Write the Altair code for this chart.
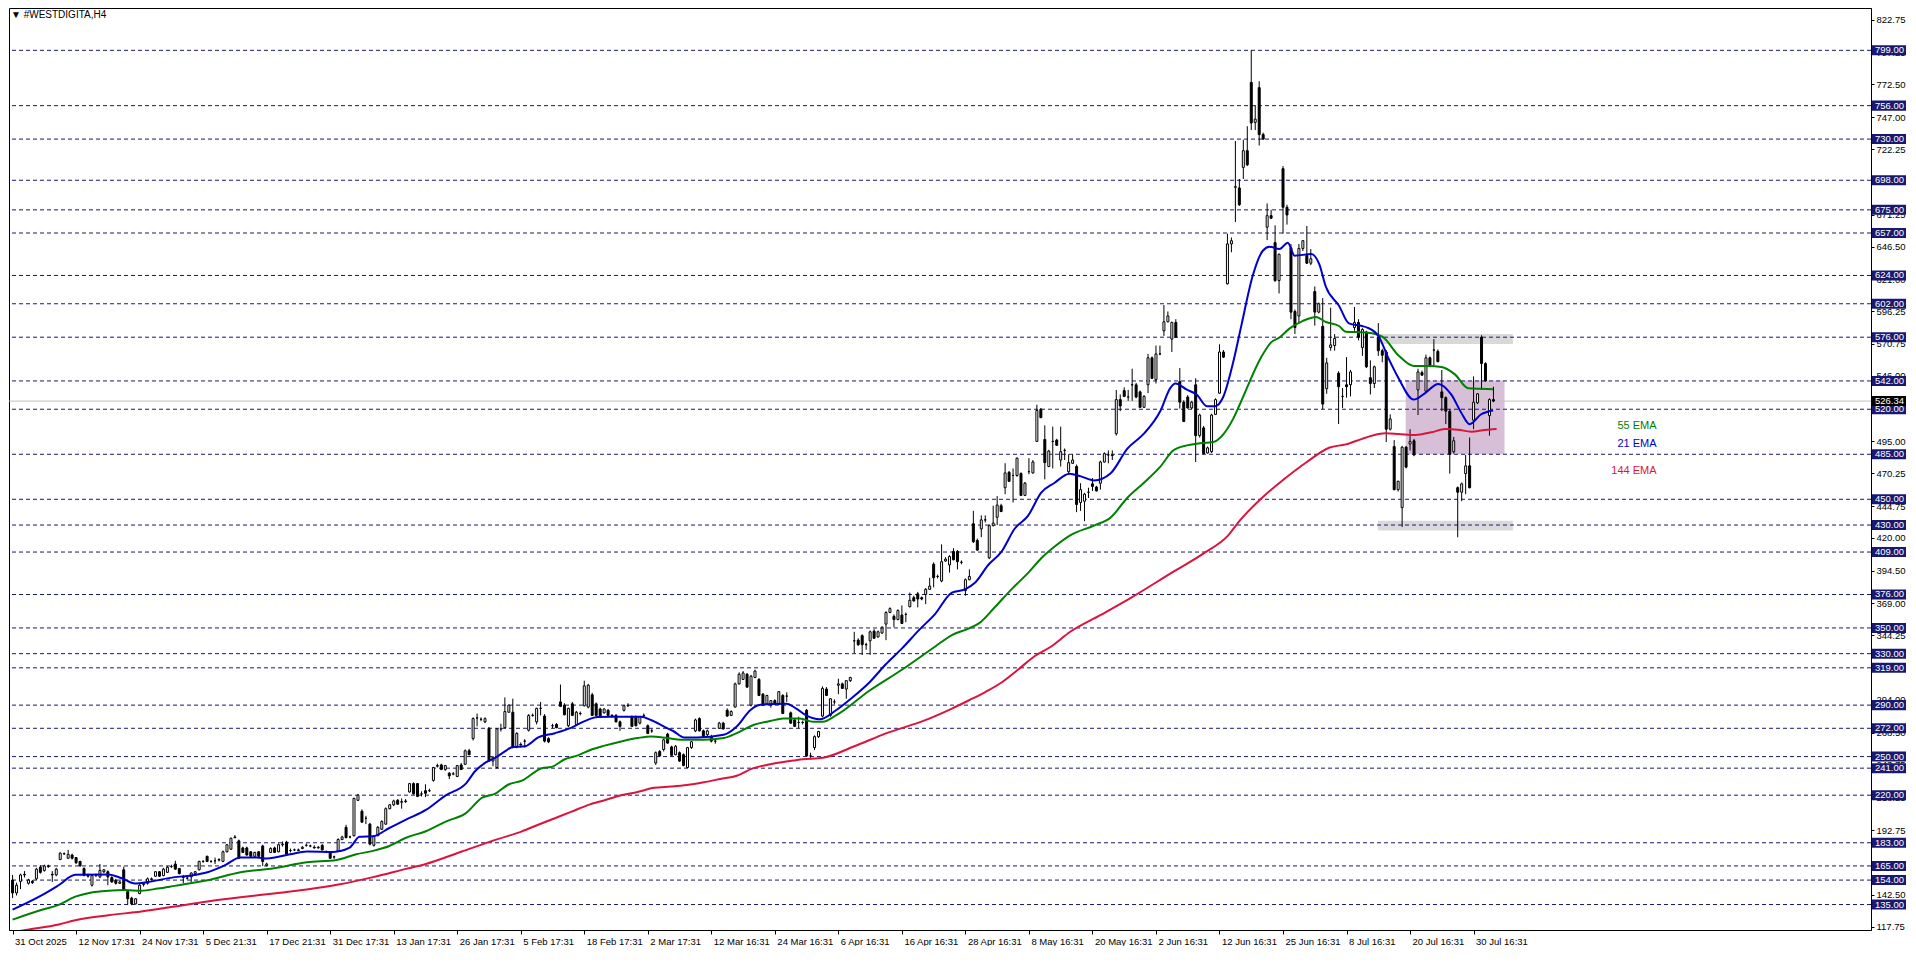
import altair as alt
import pandas as pd

# ---------------- plot size (plot area only) ----------------
W, H = 1862, 922

# ---------------- texts ----------------
TITLE = "\u25BC #WESTDIGITA,H4"
X_LABELS = ["31 Oct 2025", "12 Nov 17:31", "24 Nov 17:31", "5 Dec 21:31", "17 Dec 21:31",
            "31 Dec 17:31", "13 Jan 17:31", "26 Jan 17:31", "5 Feb 17:31", "18 Feb 17:31",
            "2 Mar 17:31", "12 Mar 16:31", "24 Mar 16:31", "6 Apr 16:31", "16 Apr 16:31",
            "28 Apr 16:31", "8 May 16:31", "20 May 16:31", "2 Jun 16:31", "12 Jun 16:31",
            "25 Jun 16:31", "8 Jul 16:31", "20 Jul 16:31", "30 Jul 16:31"]
BARS_PER_LABEL = 16

Y_TICKS = [822.75, 797.25, 772.50, 747.00, 722.25, 696.75, 671.25, 646.50, 621.00, 596.25,
           570.75, 546.00, 520.50, 495.00, 470.25, 444.75, 420.00, 394.50, 369.00, 344.25,
           318.75, 294.00, 268.50, 243.75, 218.25, 192.75, 167.25, 142.50, 117.75]

LEVELS = [799, 756, 730, 698, 675, 657, 624, 602, 576, 542, 520, 485, 450, 430, 409,
          376, 350, 330, 319, 290, 272, 250, 241, 220, 183, 165, 154, 135]
LAST_PRICE = 526.34

# ---------------- candles (open, high, low, close), H4 bars ----------------
SEG1 = [  # bars 0-99
    (154, 158, 140, 144), (144, 152, 142, 150), (153, 159, 147, 158), (158, 161, 156, 158.5),
    (151.5, 155, 150.5, 154), (153, 154, 151, 152), (155, 163.5, 154, 162.5), (164, 165.5, 159, 160),
    (161.5, 166, 160.5, 165), (164.5, 166, 163.5, 165),
    (158.5, 161, 152.5, 158), (158, 163.5, 157, 162.5), (170, 175.5, 169.5, 175), (174.5, 175.5, 173.5, 174.5),
    (171, 177.5, 170.5, 174), (173.5, 174.5, 170, 171), (171.5, 172, 166.5, 167.5), (168.5, 169, 164.5, 165),
    (163, 164, 157, 157.5), (157.5, 159, 156, 157),
    (150, 158, 149, 157.5), (157.5, 159, 156.5, 157.5), (156.5, 166.5, 155.5, 161.5), (160.5, 162.5, 159.5, 162),
    (160.5, 161.5, 150, 156.5), (156, 157, 152, 152.5), (154, 155, 150.5, 151.5), (151.5, 153.5, 151, 152.5),
    (162, 164.5, 145.5, 146.5), (145, 146, 135, 139.5),
    (140, 141, 134.5, 135.5), (135.5, 140, 135, 139.5), (143.5, 151, 143, 150), (150.5, 152.5, 149, 151.5),
    (151.5, 156, 150.5, 155), (154.5, 156, 153.5, 155), (157, 161, 156.5, 160.5), (160.5, 161, 156.5, 157),
    (157.5, 163.5, 157, 162.5), (160, 165, 159.5, 164),
    (164.5, 166, 163.5, 164.5), (166.5, 169, 162, 162.5), (163, 163.5, 158.5, 159), (156.5, 158, 151.5, 156),
    (155.5, 157, 154.5, 155.5), (156.5, 160, 152.5, 159.5), (159, 161, 158.5, 160.5), (162, 169, 161.5, 168.5),
    (168.5, 169.5, 167.5, 168.5), (172.5, 173, 168, 168.5),
    (168.5, 169.5, 167.5, 168.5), (169, 171.5, 166.5, 169), (169.5, 171, 168.5, 170), (168.5, 177, 168, 176),
    (176, 182, 175.5, 181.5), (178, 187, 177.5, 186.5), (187, 189, 186.5, 187.5), (184.5, 185.5, 170.5, 171),
    (179, 180, 175, 175.5), (179, 180, 173, 173.5),
    (176, 176.5, 172, 172.5), (172.5, 176, 172, 175.5), (176, 176.5, 172, 172.5), (180.5, 181.5, 165, 168.5),
    (165.5, 167.5, 164.5, 166.5), (175.5, 179.5, 175, 178.5), (179, 180, 175, 175.5), (176, 182.5, 175.5, 181.5),
    (181.5, 184, 180, 182), (183.5, 184.5, 173.5, 174),
    (177, 178.5, 175.5, 177), (177.5, 178.5, 176.5, 177.5), (177, 178.5, 176.5, 177.5), (178.5, 180.5, 178, 179.5),
    (181, 182.5, 180, 181), (180.5, 181.5, 179.5, 180.5), (179.5, 181, 178.5, 179), (179, 180.5, 178.5, 179.5),
    (181, 182, 177, 177.5), (176, 177, 175, 176),
    (175.5, 176, 170.5, 171), (172, 173, 170.5, 172), (176.5, 186.5, 176, 185.5), (185.5, 188.5, 185, 187.5),
    (195, 197, 186.5, 187), (187.5, 188.5, 186.5, 187.5), (188.5, 218, 188, 217.5), (216, 221, 215.5, 220),
    (207.5, 209, 198.5, 199), (202, 204, 197.5, 202),
    (197.5, 198.5, 181, 182), (181, 189, 180, 188), (188.5, 196, 188, 195), (193.5, 200.5, 193, 199.5),
    (197.5, 210.5, 197, 209.5), (209.5, 213, 209, 212.5), (212.5, 216.5, 211.5, 215.5), (216, 217, 212.5, 213),
    (214.5, 217.5, 209.5, 215), (215, 217, 214, 215.5),
]
SEG2 = [  # bars 100-199
    (222.5, 229.5, 222, 229), (229, 230, 220.5, 221), (229, 229.5, 218.5, 219), (221, 223, 219, 221),
    (223.5, 228.5, 218.5, 221.5), (223.5, 225, 222.5, 223.5), (231.5, 242, 230.5, 241.5), (242.5, 244.5, 241.5, 243),
    (243.5, 244.5, 239.5, 240), (240, 243.5, 239, 243),
    (237, 238, 232.5, 235), (236.5, 238, 235.5, 236.5), (234.5, 243.5, 234, 243), (243.5, 245, 239.5, 240),
    (244, 255.5, 243.5, 254.5), (254.5, 256, 251, 251.5), (264, 280.5, 262.5, 279.5), (280, 283.5, 273.5, 280),
    (279, 280.5, 277.5, 279), (277, 280.5, 276, 279.5),
    (272, 273, 246, 246.5), (246.5, 250.5, 242.5, 249.5), (241.5, 272, 240.5, 271.5), (271.5, 275.5, 269.5, 271.5),
    (272.5, 296, 272, 285), (284.5, 290.5, 284, 290), (284.5, 295, 256.5, 257.5), (257.5, 269, 256.5, 268),
    (259.5, 261, 257, 259), (262, 263.5, 257, 262),
    (270.5, 283, 269.5, 282), (282, 283.5, 281, 282), (277, 288, 275, 287.5), (287.5, 292.5, 282, 287.5),
    (281.5, 283, 261, 262), (264, 265, 260.5, 261.5), (274, 275.5, 272, 274), (275, 276, 272, 272.5),
    (292.5, 306, 288.5, 289), (290, 291.5, 282, 282.5),
    (274, 288, 273, 287.5), (291, 292.5, 281.5, 282), (275, 285.5, 274, 284.5), (283.5, 285, 282, 283.5),
    (289.5, 309, 289, 305), (288.5, 306.5, 287.5, 305.5), (298, 299.5, 281.5, 282), (291, 292, 281.5, 282),
    (287, 288, 281, 281.5), (284, 287.5, 283.5, 287),
    (286, 287, 281.5, 282), (282, 283, 280.5, 281.5), (282, 283, 276.5, 277), (277, 278, 270, 273.5),
    (286, 290, 285, 289.5), (289.5, 291.5, 288.5, 290), (281, 282, 273, 273.5), (281, 282, 273.5, 274),
    (276, 281.5, 275, 281), (282, 283.5, 281, 282),
    (274, 275, 267.5, 268), (270, 271.5, 268.5, 270), (245, 254, 243.5, 253), (254, 255, 250, 250.5),
    (255.5, 264, 254, 263), (267.5, 268.5, 260, 260.5), (257.5, 258.5, 250.5, 251), (251.5, 259, 251, 258),
    (253, 254, 246, 246.5), (251.5, 252.5, 242.5, 243),
    (241.5, 257.5, 241, 257), (257, 262, 256, 261.5), (270, 279.5, 269, 278.5), (279.5, 280.5, 269.5, 270),
    (270, 271, 265, 265.5), (267, 271, 266, 270), (265.5, 267, 261, 262), (262, 263.5, 260, 262),
    (272, 277, 271.5, 276), (276, 277, 271, 271.5),
    (286, 287.5, 281, 281.5), (282, 286, 281.5, 285), (288.5, 307.5, 288, 306.5), (306.5, 315.5, 306, 314),
    (310, 316.5, 309.5, 315), (314, 315, 303.5, 304), (290, 313.5, 289, 312.5), (311.5, 317.5, 311, 316.5),
    (310, 311, 297, 297.5), (298.5, 299.5, 289.5, 290),
    (291, 298, 290.5, 297.5), (290, 294, 288, 293.5), (293.5, 294.5, 290.5, 291), (291, 301, 290.5, 300.5),
    (297.5, 298.5, 283, 283.5), (297, 300, 292.5, 297), (284, 285, 275.5, 276), (278.5, 279.5, 273, 273.5),
    (276.5, 281, 272, 276.5), (276.5, 278, 275, 276.5),
]
SEG3 = [  # bars 200-299
    (286, 287, 250, 250.5), (250.5, 253, 249, 250.5), (257, 266.5, 255, 265.5), (265.5, 270, 264.5, 269.5),
    (281.5, 304.5, 280.5, 303), (302.5, 304, 297, 297.5), (282, 295.5, 281, 295), (292.5, 294.5, 290.5, 292.5),
    (305.5, 310.5, 298.5, 306.5), (306.5, 307.5, 302.5, 303),
    (302.5, 309.5, 295, 309), (309, 312, 308, 311.5), (340, 347, 330.5, 340), (340.5, 342, 336, 337),
    (344, 345, 329, 337), (337, 338.5, 333, 337), (340, 348, 329, 347), (347.5, 349, 341.5, 342),
    (343, 348, 342.5, 347), (346, 351.5, 345.5, 350),
    (353, 363, 340.5, 362), (362, 366, 361.5, 365), (359, 360.5, 350.5, 356.5), (356.5, 364.5, 356, 363.5),
    (360, 367.5, 353, 353.5), (360.5, 362, 354.5, 360.5), (366.5, 377.5, 366, 371.5), (373.5, 375, 370.5, 371),
    (376.5, 378, 366, 372.5), (373.5, 374.5, 371.5, 372.5),
    (376, 381, 368.5, 380), (380, 389, 379.5, 382.5), (399.5, 401, 381.5, 389), (390, 391.5, 388.5, 390),
    (386.5, 415, 385.5, 401.5), (402, 405, 401.5, 403.5), (399, 406.5, 393, 405.5), (409.5, 412, 402.5, 403),
    (409.5, 410.5, 395.5, 401.5), (401, 402.5, 399.5, 401),
    (379, 388.5, 375, 387.5), (387.5, 395.5, 387, 390), (431, 441, 416, 417), (418, 419.5, 410, 410.5),
    (427, 437.5, 420.5, 434), (434, 437.5, 432, 434), (404.5, 430.5, 403.5, 429.5), (429.5, 445, 429, 431.5),
    (436, 452.5, 430, 445.5), (445, 446.5, 440, 440.5),
    (459, 478, 454, 470.5), (471, 472, 463.5, 464), (468.5, 474, 447.5, 468.5), (468.5, 482.5, 467.5, 482),
    (470, 471, 452.5, 453), (453, 463.5, 452.5, 462.5), (471.5, 482, 469.5, 471.5), (470.5, 480.5, 470, 479),
    (495, 523.5, 494.5, 519), (520, 521, 513, 513.5),
    (496.5, 507.5, 465.5, 478.5), (475.5, 488.5, 475, 487.5), (495, 506.5, 474, 495), (496, 497, 491.5, 492),
    (480.5, 506.5, 475.5, 487), (488, 489.5, 480.5, 488), (471.5, 485, 469, 478.5), (478, 485, 477.5, 480.5),
    (475.5, 477, 440, 446), (447.5, 462.5, 441, 457.5),
    (448.5, 455, 433, 454), (455.5, 459, 451, 455.5), (462, 466.5, 456.5, 460), (459.5, 460.5, 456, 456.5),
    (462.5, 480, 457.5, 479), (479, 486.5, 478.5, 485.5), (484.5, 488, 478, 484.5), (484, 488, 480.5, 484.5),
    (501, 535, 499.5, 527.5), (527.5, 531.5, 518.5, 522.5),
    (534.5, 537, 529.5, 530), (529.5, 535, 526.5, 529.5), (539, 551.5, 526.5, 539), (539, 540.5, 528.5, 529.5),
    (533.5, 534.5, 521, 521.5), (521.5, 531, 521, 530), (539, 563, 532.5, 560), (560, 561, 543.5, 544),
    (543, 569.5, 540, 563), (563, 569.5, 562, 563),
    (581, 601, 577, 588), (588, 596, 587.5, 592.5), (574.5, 588, 564.5, 587.5), (587.5, 590, 575.5, 576),
    (541.5, 552, 520.5, 525.5), (525.5, 527, 510, 510.5), (529.5, 531, 520.5, 521), (521, 526.5, 520, 525.5),
    (539, 544, 479, 499.5), (499.5, 516.5, 498, 515.5),
]
SEG4 = [  # bars 300-373
    (505.5, 507, 485, 485.5), (486, 491, 485.5, 490), (487, 516.5, 486, 515.5), (516, 528.5, 515.5, 527.5),
    (532.5, 570.5, 532, 564.5), (564.5, 566, 560, 560.5), (617.5, 656.5, 617, 648.5), (648.5, 653.5, 642, 651),
    (692.5, 728.5, 665.5, 693), (692, 699, 678, 679),
    (708, 729.5, 699, 721), (721, 740, 709, 710), (774, 799, 737, 742.5), (743, 756.5, 737, 745.5),
    (770, 775, 725, 733.5), (733.5, 735, 729.5, 730), (661.5, 680, 651.5, 670.5), (670.5, 675, 668, 668.5),
    (649.5, 663, 619, 620), (620, 641, 610, 640.5),
    (707, 709, 656.5, 677), (677, 679, 663.5, 671), (645.5, 648.5, 590, 595.5), (596, 597.5, 578.5, 583.5),
    (592.5, 648.5, 587.5, 645), (645, 651.5, 643, 651), (639.5, 662.5, 633, 633.5), (633.5, 644.5, 632, 637),
    (611.5, 615.5, 585, 595.5), (595.5, 603, 594.5, 602),
    (584.5, 606.5, 520, 524), (536, 560, 532, 556), (568, 599, 565.5, 570), (569.5, 578.5, 565.5, 575),
    (548, 549.5, 508.5, 537.5), (530, 536.5, 521, 530), (539, 560.5, 529, 537.5), (539, 550.5, 530, 549),
    (583.5, 599.5, 581, 587.5), (587.5, 590, 573.5, 576),
    (568, 583, 561.5, 582), (580, 581, 552, 553), (544.5, 558, 531.5, 540), (540, 554, 536.5, 553),
    (576, 587, 561.5, 565.5), (565.5, 567, 556.5, 562), (564.5, 566, 494.5, 504.5), (504.5, 516, 503.5, 512.5),
    (491, 496, 457, 457.5), (457.5, 464.5, 456, 464),
    (443.5, 491.5, 428.5, 490.5), (490.5, 491.5, 474, 475), (493, 504.5, 488, 495), (495.5, 497, 483.5, 484.5),
    (535, 551.5, 515.5, 549), (548.5, 550, 546, 546.5), (534, 562.5, 532.5, 560), (560, 561, 554, 554),
    (566, 574.5, 553, 566), (565, 566.5, 556.5, 557),
    (533.5, 550.5, 518.5, 529), (529, 530, 508.5, 518.5), (518.5, 520, 470, 485), (487, 498.5, 485.5, 495.5),
    (459, 460, 420.5, 455.5), (455.5, 463, 448.5, 462), (470, 484.5, 454, 476), (476, 498, 458.5, 459),
    (511.5, 545.5, 504.5, 525.5), (525, 532.5, 524, 532),
    (576, 577.5, 535, 555.5), (555.5, 556.5, 541.5, 542), (515, 528.5, 499.5, 527.5), (527.5, 537.5, 525.5, 526.34),
]

# ---------------- moving averages: (bar, value) ----------------
EMA21 = [(0, 131), (7.4, 142.3), (11.6, 150), (15.8, 158.1), (24.1, 158.4), (27.4, 155.6), (30.8, 151.3),
         (34.1, 152.5), (40.8, 156.3), (45, 157.6), (49.1, 160.1), (53.3, 165.2), (57.4, 171.6), (61.6, 171.6),
         (64.1, 170.8), (69.9, 174.1), (74.1, 176.2), (80.8, 175.9), (84.9, 179.2), (87.4, 187.6), (90.8, 188.1),
         (94.9, 194.5), (99.1, 201), (104.1, 208.5), (109.1, 219.9), (114.1, 228.8), (116.6, 239), (119.1, 245.3),
         (121.6, 249.1), (124.1, 254.2), (125.8, 257.3), (129.1, 258), (132.4, 264.9), (136.6, 268.2),
         (140.8, 272.5), (144.1, 277.6), (147.4, 280.7), (150.8, 280.9), (158.3, 280.9), (160.8, 278.4),
         (164.1, 273.3), (166.6, 269.5), (169.1, 264.9), (172.4, 264.9), (179.1, 266.9), (182.4, 273.3),
         (185.8, 286), (188.3, 290.3), (194.9, 291.1), (197.4, 287.3), (199.9, 282), (203.3, 279), (207.4, 286),
         (211.6, 296.1), (215.8, 307.6), (219.9, 321.6), (224.1, 334.3), (228.3, 348.3), (232.4, 361),
         (236.6, 377.5), (239.9, 380), (242.4, 385.1), (245.8, 399.1), (249.1, 409.3), (252.4, 427.1),
         (255.8, 437.3), (259.1, 455.1), (262.4, 462.7), (266.2, 469.8), (269.1, 467.8), (272.4, 464.7),
         (276.6, 470.3), (280.8, 489.4), (284.9, 500.8), (289.1, 518.6), (291.6, 536.4), (292.9, 540),
         (295.8, 535.2), (298.3, 531.3), (300.8, 522.4), (302.9, 522.4), (304.9, 529.3), (307.4, 556),
         (309.5, 585), (312.4, 624.1), (314.9, 643.2), (316.6, 646.3), (319.1, 644.5), (321.2, 649.5),
         (322.9, 639.4), (327.1, 640.6), (329.1, 633), (330.8, 615.2), (334.1, 600.5), (336.6, 586.8),
         (339.9, 584.7), (341.2, 583.5), (344.1, 576.6), (346.6, 559.3), (349.1, 544.1), (352.9, 527.5),
         (355.8, 532.6), (359.1, 539.7), (362.4, 531.3), (364.9, 517.3), (367, 508.4), (369.9, 516.1),
         (372.9, 519.1)]
EMA55 = [(0, 123.3), (7.4, 131), (11.6, 134.7), (15.8, 141.1), (19.9, 144.4), (24.1, 145.7), (28.3, 146.2),
         (32.4, 145.7), (36.6, 147.4), (40.8, 149.5), (49.1, 153.8), (57.4, 160.1), (65.8, 163.2), (74.1, 167.8),
         (81.6, 169.6), (86.6, 174.1), (90.8, 176.7), (94.9, 180.5), (99.1, 186.9), (104.1, 192), (109.1, 199.5),
         (114.1, 205.9), (118.3, 218.1), (121.6, 221.2), (124.9, 228.3), (128.3, 231.3), (133.3, 241),
         (135.8, 242), (139.1, 247.9), (142.4, 250.9), (145.8, 255.5), (149.1, 258.5), (153.3, 261.8),
         (157.4, 264.4), (160.8, 265.7), (164.9, 264.4), (168.3, 263.1), (174.1, 263.1), (179.1, 264.4),
         (182.4, 268.2), (186.6, 274.6), (190.8, 277.6), (194.1, 279.6), (198.3, 279.6), (201.6, 277.1),
         (204.1, 277.1), (207.4, 282), (215.8, 301.2), (224.1, 317.7), (232.4, 335.6), (236.6, 344.5),
         (240.8, 349.5), (243.3, 353.3), (247.4, 366.1), (251.6, 380), (255.8, 392.8), (259.1, 404.2),
         (262.4, 413.1), (266.4, 422), (272.4, 429.6), (276.6, 435.9), (280.8, 451.2), (284.9, 462.7),
         (289.1, 475.4), (292.4, 488.1), (295.8, 491.9), (298.3, 493.2), (302.4, 494.5), (304.9, 500.3),
         (307.4, 512.3), (309.1, 523.7), (314.5, 560.5), (317, 572), (319.1, 575.8), (321.6, 582.7),
         (324.9, 588.5), (328.3, 591.8), (330.8, 587.8), (334.1, 584.7), (335.8, 580.2), (340.8, 579.7),
         (344.9, 576.6), (349.1, 561.8), (352.9, 553.7), (356.6, 553.7), (359.9, 552.9), (363.3, 547.1),
         (366.6, 536.4), (369.9, 535.9), (372.9, 535.6)]
EMA144 = [(0, 113.5), (4.1, 115.6), (11.6, 119.5), (15.8, 122.8), (24.1, 126.6), (32.4, 129.6), (40.8, 133.4),
          (49.1, 137.3), (57.4, 140.6), (65.8, 143.6), (74.1, 146.7), (82.4, 150.7), (90.8, 156.3),
          (99.1, 162.7), (104.1, 166.5), (113, 176), (122.4, 186), (128.3, 191.9), (132.4, 197), (136.6, 202.1),
          (140.8, 207.2), (144.9, 212.3), (149.1, 216.1), (153.3, 219.9), (157.4, 222.4), (161.6, 225.7),
          (165.8, 226.7), (169.9, 228), (174.1, 230.1), (178.3, 232.6), (182.4, 235.1), (186.6, 241),
          (190.8, 244), (194.9, 246.1), (199.1, 247.9), (204.1, 249.1), (212, 258), (220, 268), (229.9, 278.3),
          (236.6, 287.3), (240.8, 293.6), (244.9, 300), (249.1, 307.6), (253.3, 317.7), (257.4, 328),
          (261.6, 335.6), (266.4, 347), (274, 360), (282, 374), (292, 393), (300, 408), (306.2, 422),
          (309.1, 433.4), (315, 452), (320, 465), (326, 479), (331.6, 490.1), (335.8, 492.7), (339.9, 497),
          (344.1, 500.8), (345.8, 501.3), (349.1, 500.8), (353.3, 500), (357.4, 502.1), (360.8, 504.6),
          (364.1, 504.1), (367.4, 502.6), (370.8, 503.9), (373.8, 504.6)]

# ---------------- drawn zones ----------------
ZONE_X1 = [343.9, 343.9, 350.9]
ZONE_X2 = [377.9, 377.9, 375.8]
ZONE_LO = [570.8, 425.8, 485.0]
ZONE_HI = [578.4, 433.4, 542.3]
ZONE_FILL = ["#D9D9D9", "#D9D9D9", "#D8BFD8"]

LEGEND_TEXT = ["55 EMA", "21 EMA", "144 EMA"]
LEGEND_COLOR = ["#008000", "#0000CD", "#DC143C"]
LEGEND_Y = [506.7, 493.0, 471.7]
LEGEND_X = 414.1

# ---------------- styles ----------------
FONT = "Liberation Sans"
LEVEL_COLOR = "#191970"
X_DOMAIN = [-0.9, 468.1]
Y_DOMAIN = [115.2, 831.9]
BOX_HALF = 3.9  # price units

# ---------------- data frames ----------------
candles = []
for i, (o, h, l, c) in enumerate(SEG1 + SEG2 + SEG3 + SEG4):
    candles.append({"bar": i, "o": o, "h": h, "l": l, "c": c,
                    "lo": min(o, c), "hi": max(o, c)})
cdf = pd.DataFrame(candles)

ema_rows = []
for name, pts in (("ema21", EMA21), ("ema55", EMA55), ("ema144", EMA144)):
    for b, v in pts:
        ema_rows.append({"bar": b, "v": v, "s": name})
edf = pd.DataFrame(ema_rows)

zdf = pd.DataFrame({"x1": ZONE_X1, "x2": ZONE_X2, "lo": ZONE_LO, "hi": ZONE_HI, "fill": ZONE_FILL})
ldf = pd.DataFrame({"v": LEVELS, "label": [f"{v:.2f}" for v in LEVELS]})
pdf = pd.DataFrame({"v": [LAST_PRICE], "label": [f"{LAST_PRICE:.2f}"]})
gdf = pd.DataFrame({"t": LEGEND_TEXT, "col": LEGEND_COLOR, "y": LEGEND_Y, "x": [LEGEND_X] * 3})
tdf = pd.DataFrame({"t": [TITLE]})

xs = alt.Scale(domain=X_DOMAIN, nice=False, zero=False)
ys = alt.Scale(domain=Y_DOMAIN, nice=False, zero=False)

label_array = "[" + ",".join("'" + s + "'" for s in X_LABELS) + "]"
x_axis = alt.Axis(values=[k * BARS_PER_LABEL for k in range(len(X_LABELS))],
                  labelExpr=label_array + f"[round(datum.value/{BARS_PER_LABEL})]",
                  title=None, grid=False, labelAlign="left", labelOffset=2, labelPadding=2,
                  tickSize=4, tickColor="black", domainColor="black", labelColor="black",
                  labelFont=FONT, labelFontSize=9.5, labelOverlap=False, labelBound=False,
                  labelFlush=False)
y_axis = alt.Axis(values=Y_TICKS, format=".2f", orient="right", title=None, grid=False,
                  tickSize=3, tickColor="black", domainColor="black", labelColor="black",
                  labelFont=FONT, labelFontSize=9.5, labelPadding=2, labelOverlap=False,
                  labelBaseline="middle", labelFlush=False)


def X(field):
    return alt.X(field, scale=xs, axis=x_axis)


def Y(field):
    return alt.Y(field, scale=ys, axis=y_axis)


# zones
zones = alt.Chart(zdf).mark_rect(clip=True).encode(
    x=X("x1:Q"), x2="x2:Q", y=Y("lo:Q"), y2="hi:Q",
    fill=alt.Fill("fill:N", scale=None),
)

levels = alt.Chart(ldf).mark_rule(color=LEVEL_COLOR, strokeWidth=1, strokeDash=[4, 3]).encode(
    y=Y("v:Q"))

last_line = alt.Chart(pdf).mark_rule(color="#C0C0C0", strokeWidth=1).encode(y=Y("v:Q"))

wicks = alt.Chart(cdf).mark_rule(color="black", strokeWidth=1, clip=True).encode(
    x=X("bar:Q"), y=Y("l:Q"), y2="h:Q")

bodies = alt.Chart(cdf).transform_calculate(
    xa="datum.bar - 0.25", xb="datum.bar + 0.25"
).mark_rect(stroke="black", strokeWidth=1, clip=True).encode(
    x=X("xa:Q"), x2="xb:Q", y=Y("lo:Q"), y2="hi:Q",
    fill=alt.condition("datum.c >= datum.o", alt.value("white"), alt.value("black")),
)


def ema_line(name, color):
    return alt.Chart(edf).transform_filter(alt.datum.s == name).mark_line(
        color=color, strokeWidth=2, clip=True, interpolate="monotone"
    ).encode(x=X("bar:Q"), y=Y("v:Q"), order="bar:Q")


l144 = ema_line("ema144", "#DC143C")
l55 = ema_line("ema55", "#008000")
l21 = ema_line("ema21", "#0000CD")

legend = alt.Chart(gdf).mark_text(align="right", baseline="middle", font=FONT, fontSize=11).encode(
    x=X("x:Q"), y=Y("y:Q"), text="t:N", color=alt.Color("col:N", scale=None))

box = alt.Chart(ldf).transform_calculate(
    b1=f"datum.v + {BOX_HALF}", b2=f"datum.v - {BOX_HALF}"
).mark_rect(color=LEVEL_COLOR).encode(
    x=alt.value(W + 1), x2=alt.value(W + 35), y=Y("b1:Q"), y2="b2:Q")
box_text = alt.Chart(ldf).mark_text(align="left", baseline="middle", color="white",
                                    font=FONT, fontSize=9.5).encode(
    x=alt.value(W + 4), y=Y("v:Q"), text="label:N")

pbox = alt.Chart(pdf).transform_calculate(
    b1=f"datum.v + {BOX_HALF}", b2=f"datum.v - {BOX_HALF}"
).mark_rect(color="black").encode(
    x=alt.value(W + 1), x2=alt.value(W + 35), y=Y("b1:Q"), y2="b2:Q")
pbox_text = alt.Chart(pdf).mark_text(align="left", baseline="middle", color="white",
                                     font=FONT, fontSize=9.5).encode(
    x=alt.value(W + 4), y=Y("v:Q"), text="label:N")

title = alt.Chart(tdf).mark_text(align="left", baseline="middle", color="black",
                                 font=FONT, fontSize=10).encode(
    x=alt.value(2), y=alt.value(7), text="t:N")

chart = alt.layer(
    zones, levels, last_line, wicks, bodies, l144, l55, l21, legend,
    box, box_text, pbox, pbox_text, title
).properties(
    width=W, height=H, padding={"left": 0, "top": 0, "right": 2, "bottom": 0},
    background="white",
).configure_view(stroke="black", strokeWidth=1)

chart.save("out.html", embed_options={"renderer": "svg", "actions": False})
